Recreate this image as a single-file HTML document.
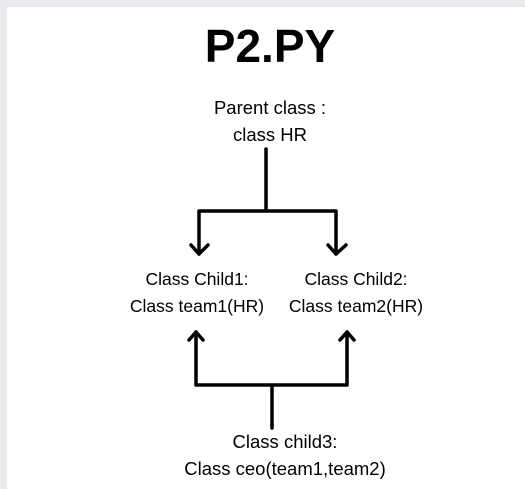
<!DOCTYPE html>
<html><head><style>
html,body{margin:0;padding:0;}
body{width:525px;height:489px;background:#e9eaee;position:relative;overflow:hidden;font-family:"Liberation Sans",sans-serif;color:#000;}
#w{position:absolute;left:7px;top:7px;width:518px;height:482px;background:#fff;}
.t{position:absolute;white-space:nowrap;transform:translateX(-50%);text-align:center;font-size:18.5px;line-height:27px;}
</style></head><body>
<div id="w"></div>
<div class="t" style="left:270px;top:20px;font-size:46px;line-height:52px;font-weight:bold;">P2.PY</div>
<div class="t" style="left:270px;top:94px;">Parent class :<br>class HR</div>
<div class="t" style="left:197px;top:266px;font-size:17.5px;">Class Child1:<br>Class team1(HR)</div>
<div class="t" style="left:356px;top:266px;font-size:17.5px;">Class Child2:<br>Class team2(HR)</div>
<div class="t" style="left:285px;top:428px;">Class child3:<br>Class ceo(team1,team2)</div>
<svg width="525" height="489" style="position:absolute;left:0;top:0" fill="none" stroke="#000" stroke-width="3.5" stroke-linecap="round" stroke-linejoin="round">
<path d="M266 149 V210 M199 254 V211 H336 V254"/>
<path d="M191 245 L199 254 L208 245 M328 245 L336 254 L346 245"/>
<path d="M196 332 V385 H347 V332 M272 385 V428"/>
<path d="M189 340 L196 332 L203 340 M340 340 L347 332 L354 340"/>
</svg>
</body></html>
